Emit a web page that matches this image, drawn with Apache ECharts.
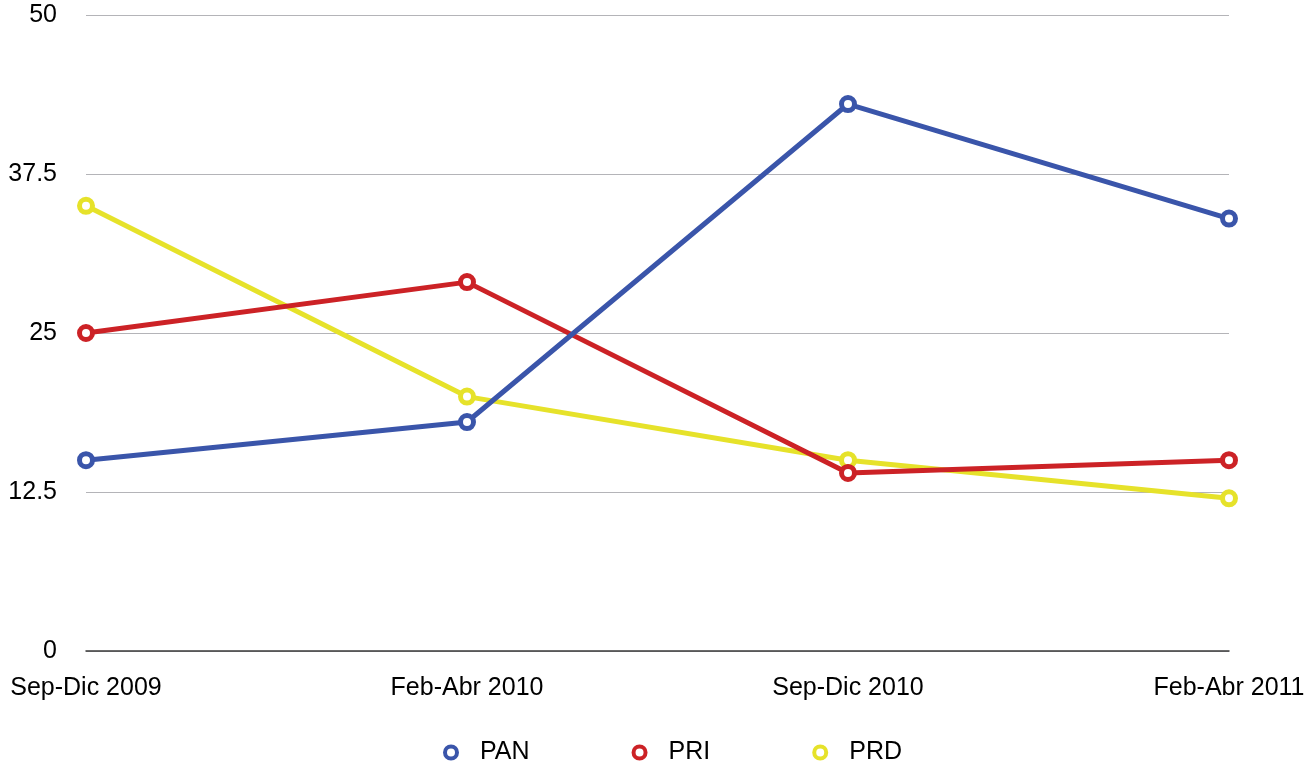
<!DOCTYPE html>
<html>
<head>
<meta charset="utf-8">
<script src="https://cdn.jsdelivr.net/npm/echarts@6/dist/echarts.min.js"></script>
<style>
html,body{margin:0;padding:0;background:#fff;}
#chart{width:1311px;height:765px;}
</style>
</head>
<body>
<div id="chart"></div>
<script>
const categories = ['Sep-Dic 2009', 'Feb-Abr 2010', 'Sep-Dic 2010', 'Feb-Abr 2011'];
const panValues = [15, 18, 43, 34];
const priValues = [25, 29, 14, 15];
const prdValues = [35, 20, 15, 12];
const seriesNames = ['PAN', 'PRI', 'PRD'];

const FONT = '"Liberation Sans", Arial, Helvetica, sans-serif';
const colors = ['#3a55aa', '#cc2226', '#e6e22a'];

function mk(name, data, color, z) {
  return {
    name: name,
    type: 'line',
    data: data,
    z: z,
    symbol: 'circle',
    symbolSize: 13,
    showAllSymbol: true,
    lineStyle: { color: color, width: 5 },
    itemStyle: { color: '#ffffff', borderColor: color, borderWidth: 5 },
    emphasis: { disabled: true },
    animation: false
  };
}

const chart = echarts.init(document.getElementById('chart'));
chart.setOption({
  animation: false,
  grid: { left: 86, right: 82, top: 15, bottom: 114, containLabel: false },
  legend: {
    data: seriesNames.map((n, i) => ({
      name: n,
      icon: 'circle',
      itemStyle: { color: '#ffffff', borderColor: colors[i], borderWidth: 4 }
    })),
    top: 735,
    left: 438,
    itemWidth: 48,
    itemHeight: 12,
    itemGap: 102,
    textStyle: { fontFamily: FONT, fontSize: 25, color: '#000' }
  },
  xAxis: {
    type: 'category',
    data: categories,
    boundaryGap: false,
    axisLine: { show: true, lineStyle: { color: '#3a3a3a', width: 1.5 } },
    axisTick: { show: false },
    axisLabel: { fontFamily: FONT, fontSize: 25, color: '#000', margin: 25, interval: 0 },
    splitLine: { show: false }
  },
  yAxis: {
    type: 'value',
    min: 0,
    max: 50,
    interval: 12.5,
    axisLine: { show: false },
    axisTick: { show: false },
    axisLabel: { fontFamily: FONT, fontSize: 25, color: '#000', margin: 29, padding: [5, 0, 0, 0] },
    splitLine: { show: true, lineStyle: { color: '#b4b4b8', width: 1.2 } }
  },
  series: [
    mk(seriesNames[0], panValues, colors[0], 5),
    mk(seriesNames[1], priValues, colors[1], 4),
    mk(seriesNames[2], prdValues, colors[2], 3)
  ]
});
</script>
</body>
</html>
